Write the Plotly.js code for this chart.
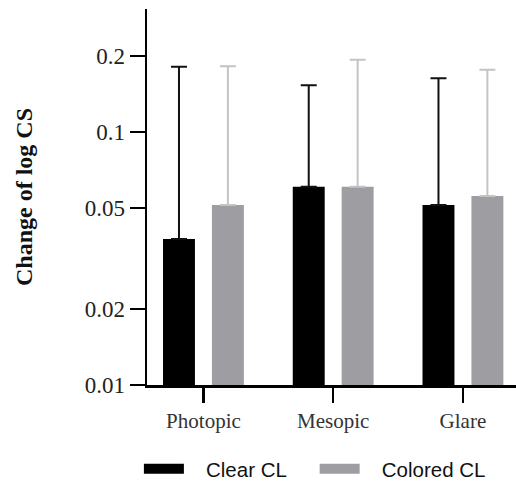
<!DOCTYPE html>
<html>
<head>
<meta charset="utf-8">
<script src="https://cdn.plot.ly/plotly-3.0.1.min.js"></script>
<style>html,body{margin:0;padding:0;background:#fff;}#chart{width:516px;height:482px;}</style>
</head>
<body>
<div id="chart"></div>
<script>
var categories = ["Photopic", "Mesopic", "Glare"];
var seriesNames = ["Clear CL", "Colored CL"];
var clearMean = [0.0378, 0.0607, 0.0514];
var clearUpper = [0.181, 0.153, 0.163];
var coloredMean = [0.0514, 0.0607, 0.0558];
var coloredUpper = [0.182, 0.193, 0.176];
var yTickVals = [0.01, 0.02, 0.05, 0.1, 0.2];
var yTickText = ["0.01", "0.02", "0.05", "0.1", "0.2"];

function diff(a, b) { return a.map(function (v, i) { return v - b[i]; }); }
function zeros(a) { return a.map(function () { return 0; }); }

var serif = "Liberation Serif, Times New Roman, serif";
var sans = "Liberation Sans, Arial, sans-serif";
var lead = "\u00a0\u00a0\u00a0";
var trail = "\u00a0\u00a0\u00a0\u00a0";

var traces = [
  {
    type: "bar", x: categories, y: clearMean, name: seriesNames[0], showlegend: false,
    marker: { color: "#000000" },
    error_y: { type: "data", symmetric: false, array: diff(clearUpper, clearMean), arrayminus: zeros(clearMean),
               color: "#111111", thickness: 2, width: 8 }
  },
  {
    type: "bar", x: categories, y: coloredMean, name: seriesNames[1], showlegend: false,
    marker: { color: "#9e9da2" },
    error_y: { type: "data", symmetric: false, array: diff(coloredUpper, coloredMean), arrayminus: zeros(coloredMean),
               color: "#c4c4c4", thickness: 2, width: 8 }
  },
  { type: "scatter", mode: "lines", x: [null], y: [null], name: lead + seriesNames[0] + trail, line: { color: "#000000", width: 12 } },
  { type: "scatter", mode: "lines", x: [null], y: [null], name: lead + seriesNames[1], line: { color: "#9e9da2", width: 12 } }
];

var layout = {
  width: 516, height: 482,
  margin: { l: 147, r: 0, t: 9, b: 97 },
  paper_bgcolor: "#fff", plot_bgcolor: "#fff",
  barmode: "group", bargap: 0.246, bargroupgap: 0.347,
  showlegend: true,
  legend: { orientation: "h", x: 0.455, xanchor: "center", yref: "container", y: 0.027, yanchor: "middle",
            font: { family: sans, size: 20.5, color: "#111" }, itemwidth: 40, itemclick: false },
  xaxis: {
    type: "category", range: [-0.435, 2.409],
    showline: true, linecolor: "#000", linewidth: 2.5,
    ticks: "outside", ticklen: 15, tickwidth: 2.5, tickcolor: "#000",
    showgrid: false, zeroline: false,
    tickfont: { family: serif, size: 21, color: "#333" }
  },
  yaxis: {
    type: "log", range: [-2, -0.514],
    showline: true, linecolor: "#000", linewidth: 2.5,
    ticks: "outside", ticklen: 15, tickwidth: 2.5, tickcolor: "#000",
    tickvals: yTickVals, ticktext: yTickText,
    showgrid: false, zeroline: false,
    tickfont: { family: serif, size: 23, color: "#222" },
    title: { text: "<b>Change of log CS</b>", font: { family: serif, size: 24, color: "#111" }, standoff: 46 }
  }
};

Plotly.newPlot("chart", traces, layout, { displayModeBar: false, staticPlot: true });
</script>
</body>
</html>
